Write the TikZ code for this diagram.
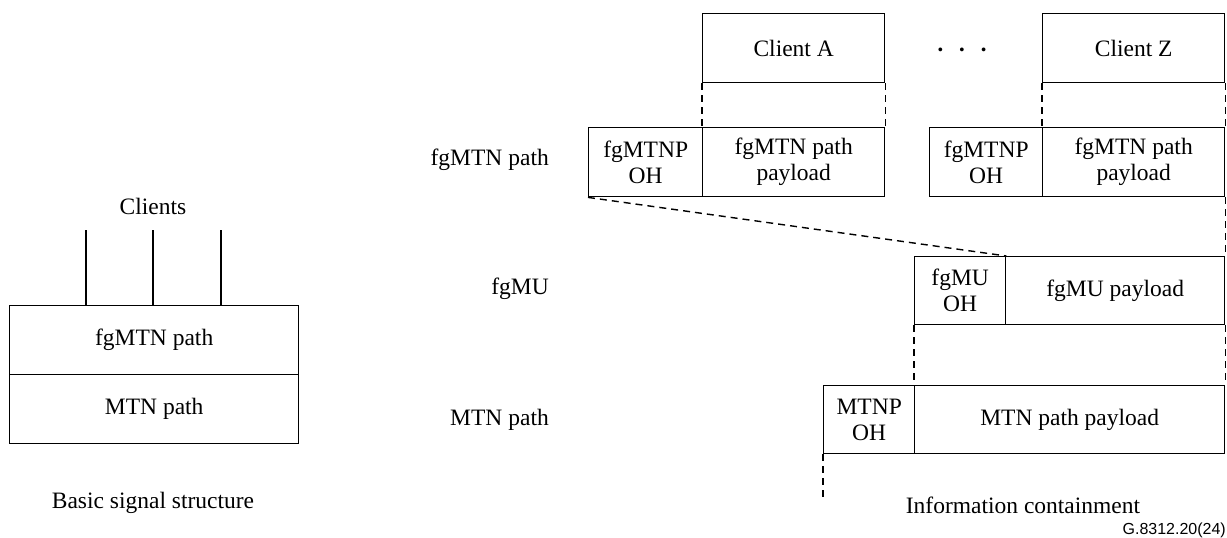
\documentclass[tikz,border=0pt]{standalone}
\usepackage{fontspec}
\setmainfont{Liberation Serif}
\setsansfont{Liberation Sans}
\begin{document}
\begin{tikzpicture}[x=1pt,y=-1pt,
  every node/.style={inner sep=0pt},
  txt/.style={font=\fontsize{23.5}{26}\selectfont},
  box/.style={draw,line width=1.4pt,anchor=north west,align=center,font=\fontsize{23.5}{26}\selectfont},
  dsh/.style={line width=1.4pt,dash pattern=on 7pt off 5pt},
  solidline/.style={line width=1.4pt}]
\useasboundingbox (0,0) rectangle (1227,538);

% left: basic signal structure
\node[box,minimum width=289pt,minimum height=69pt] (fgL) at (9,305) {fgMTN path};
\node[box,minimum width=289pt,minimum height=69pt] (mtnL) at (9,374) {MTN path};
\node[txt] (clients) at (153,206) {Clients};
\coordinate (c1) at (86,230);
\coordinate (c2) at (153,230);
\coordinate (c3) at (221,230);
\draw[solidline] (c1) -- (c1 |- fgL.north);
\draw[solidline] (c2) -- (c2 |- fgL.north);
\draw[solidline] (c3) -- (c3 |- fgL.north);
\node[txt] (bss) at (153,503) {Basic signal structure};

% row labels
\node[txt,anchor=east] (lfg) at (549,160) {fgMTN path};
\node[txt,anchor=east] (lmu) at (549,289) {fgMU};
\node[txt,anchor=east] (lmtn) at (549,420) {MTN path};

% clients
\node[box,minimum width=182pt,minimum height=69pt] (cA) at (702,13) {Client A};
\node[box,minimum width=182pt,minimum height=69pt] (cZ) at (1042,13) {Client Z};
\node[font=\fontsize{32}{32}\selectfont] (dots) at (962,54) {·\hspace{11pt}·\hspace{11pt}·};

% fgMTN path
\node[box,minimum width=114pt,minimum height=69pt] (ohA) at (588,127) {fgMTNP\\OH};
\node[box,minimum width=182pt,minimum height=69pt] (plA) at (702,127) {fgMTN path\\payload};
\node[box,minimum width=113pt,minimum height=69pt] (ohZ) at (929,127) {fgMTNP\\OH};
\node[box,minimum width=182pt,minimum height=69pt] (plZ) at (1042,127) {fgMTN path\\payload};

% fgMU
\node[box,minimum width=91pt,minimum height=68pt] (muoh) at (914,256) {fgMU\\OH};
\node[box,minimum width=219pt,minimum height=68pt] (mupl) at (1005,256) {fgMU payload};

% MTN path
\node[box,minimum width=91pt,minimum height=68pt] (mtnoh) at (823,385) {MTNP\\OH};
\node[box,minimum width=310pt,minimum height=68pt] (mtnpl) at (914,385) {MTN path payload};

% dashed connectors
\draw[dsh] (cA.south west) -- (plA.north west);
\draw[dsh] (cA.south east) -- (plA.north east);
\draw[dsh] (cZ.south west) -- (plZ.north west);
\draw[dsh] (cZ.south east) -- (plZ.north east);
\draw[dsh] (ohA.south west) -- (muoh.north east);
\draw[dsh] (plZ.south east) -- (mupl.north east);
\draw[dsh] (muoh.south west) -- (mtnpl.north west);
\draw[dsh] (mupl.south east) -- (mtnpl.north east);
\coordinate (mtnend) at (823,497);
\draw[dsh] (mtnoh.south west) -- (mtnend);

\node[txt] (ic) at (1023,505) {Information containment};
\node[anchor=east,font=\sffamily\fontsize{16}{18}\selectfont] (ref) at (1226,530) {G.8312.20(24)};
\end{tikzpicture}
\end{document}
